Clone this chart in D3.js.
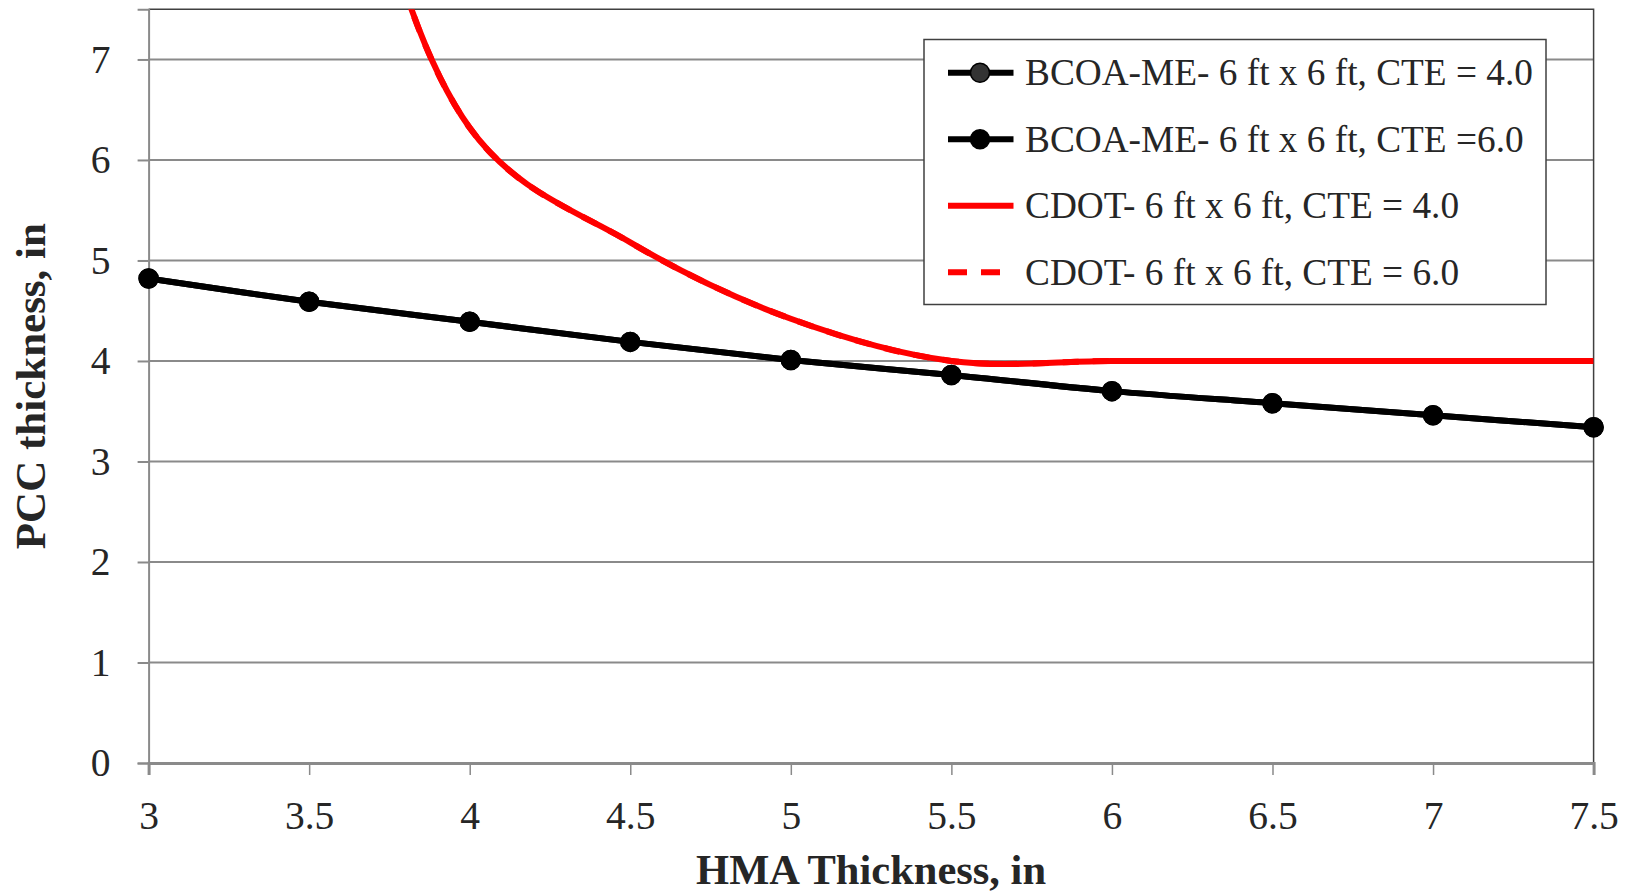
<!DOCTYPE html>
<html>
<head>
  <title>PCC vs HMA thickness</title>
  <script type="text/javascript" src="https://cdnjs.cloudflare.com/ajax/libs/d3/7.8.5/d3.min.js"></script>
  <style>
    body { margin: 0; background: #fff; }
    text { font-family: "Liberation Serif", "Times New Roman", serif; fill: #262626; }
  </style>
</head>
<body>
  <div id="container"></div>
  <script type="text/javascript">
    // HMA thickness (in) along the x axis
    var hma = [3, 3.5, 4, 4.5, 5, 5.5, 6, 6.5, 7, 7.5];
    // BCOA-ME series (both CTE values give the same curve)
    var bcoaCte4 = [4.82, 4.59, 4.39, 4.19, 4.01, 3.86, 3.70, 3.58, 3.46, 3.34];
    var bcoaCte6 = [4.82, 4.59, 4.39, 4.19, 4.01, 3.86, 3.70, 3.58, 3.46, 3.34];
    // CDOT series, first two points are off the top of the chart
    var cdotCte4 = [22.7, 11.6, 6.32, 5.18, 4.42, 4.0, 4.0, 4.0, 4.0, 4.0];
    var cdotCte6 = [22.7, 11.6, 6.32, 5.18, 4.42, 4.0, 4.0, 4.0, 4.0, 4.0];
    var xTicks = [3, 3.5, 4, 4.5, 5, 5.5, 6, 6.5, 7, 7.5];
    var yTicks = [0, 1, 2, 3, 4, 5, 6, 7];
    var legendLabels = [
      'BCOA-ME- 6 ft x 6 ft, CTE = 4.0',
      'BCOA-ME- 6 ft x 6 ft, CTE =6.0',
      'CDOT- 6 ft x 6 ft, CTE = 4.0',
      'CDOT- 6 ft x 6 ft, CTE = 6.0'
    ];

    function drawGraph() {
      var W = 1630, H = 892;
      var margin = {top: 9.2, left: 148.6, right: 36.4, bottom: 129};
      var width = W - margin.left - margin.right,
        height = H - margin.top - margin.bottom;

      var svg = d3.select('#container').append('svg')
        .attr('width', W).attr('height', H);

      var gp = svg.append('g').attr('transform', `translate(${margin.left},${margin.top})`);

      var x = d3.scaleLinear().domain([3, 7.5]).range([0, width]);
      var y = d3.scaleLinear().domain([0, 7.5]).range([height, 0]);

      svg.append('defs').append('clipPath').attr('id', 'plotclip')
        .append('rect').attr('x', 0).attr('y', 0).attr('width', width).attr('height', height);

      // gridlines
      gp.selectAll('line.grid').data(yTicks.filter(d => d > 0)).enter()
        .append('line').attr('class', 'grid')
        .attr('x1', 0).attr('x2', width)
        .attr('y1', d => y(d)).attr('y2', d => y(d))
        .attr('stroke', '#8a8a8a').attr('stroke-width', 2);

      // plot border (top and right)
      gp.append('path')
        .attr('d', `M0,0H${width}V${height}`)
        .attr('fill', 'none').attr('stroke', '#404040').attr('stroke-width', 1.5);

      // axes
      var xAxis = gp.append('g').attr('transform', `translate(0,${height})`)
        .call(d3.axisBottom(x).tickValues(xTicks).tickFormat(d3.format('')).tickSize(12).tickPadding(26));
      xAxis.select('.domain').attr('stroke', '#8a8a8a').attr('stroke-width', 3);
      xAxis.selectAll('.tick line').attr('stroke', '#8a8a8a').attr('stroke-width', 1.5);
      xAxis.selectAll('text').style('font-size', '39.5px').attr('fill', '#262626')
        .style('font-family', '"Liberation Serif", serif');

      var yAxis = gp.append('g')
        .call(d3.axisLeft(y).tickValues(yTicks).tickSize(11).tickPadding(27));
      yAxis.select('.domain').attr('stroke', '#8a8a8a').attr('stroke-width', 2);
      yAxis.selectAll('.tick line').attr('stroke', '#8a8a8a').attr('stroke-width', 2);
      yAxis.selectAll('text').style('font-size', '39.5px').attr('fill', '#262626')
        .style('font-family', '"Liberation Serif", serif');

      // axis titles
      svg.append('text')
        .attr('x', margin.left + width / 2).attr('y', 884)
        .attr('text-anchor', 'middle')
        .style('font-size', '42.5px').style('font-weight', 'bold')
        .text('HMA Thickness, in');
      svg.append('text')
        .attr('transform', `translate(44.5,${margin.top + height / 2}) rotate(-90)`)
        .attr('text-anchor', 'middle')
        .style('font-size', '43px').style('font-weight', 'bold')
        .text('PCC thickness, in');

      var line = d3.line()
        .x(d => x(d[0])).y(d => y(d[1]))
        .curve(d3.curveCatmullRom.alpha(0.5));

      var series = [
        {vals: bcoaCte4, color: '#000', dash: null, marker: '#333'},
        {vals: bcoaCte6, color: '#000', dash: null, marker: '#000'},
        {vals: cdotCte4, color: '#ff0000', dash: null, marker: null},
        {vals: cdotCte6, color: '#ff0000', dash: '16,14', marker: null}
      ];

      var plot = gp.append('g').attr('clip-path', 'url(#plotclip)');
      series.forEach(function (s) {
        var pts = hma.map((h, i) => [h, s.vals[i]]);
        plot.append('path').datum(pts)
          .attr('d', line)
          .attr('fill', 'none').attr('stroke', s.color).attr('stroke-width', 6)
          .attr('stroke-dasharray', s.dash)
          .attr('stroke-linejoin', 'round');
        if (s.marker) {
          gp.selectAll(null).data(pts).enter().append('circle')
            .attr('cx', d => x(d[0])).attr('cy', d => y(d[1]))
            .attr('r', 9.5).attr('fill', s.marker).attr('stroke', '#000').attr('stroke-width', 1.5);
        }
      });

      // legend
      var lg = svg.append('g').attr('transform', 'translate(924,39.5)');
      lg.append('rect').attr('width', 622).attr('height', 265)
        .attr('fill', '#fff').attr('stroke', '#404040').attr('stroke-width', 1.5);
      series.forEach(function (s, i) {
        var ry = 33.3 + i * 66.5;
        lg.append('line').attr('x1', 24).attr('x2', 89.5).attr('y1', ry).attr('y2', ry)
          .attr('stroke', s.color).attr('stroke-width', 6)
          .attr('stroke-dasharray', s.dash ? '19,14' : null);
        if (s.marker) {
          lg.append('circle').attr('cx', 56).attr('cy', ry).attr('r', 9.5)
            .attr('fill', s.marker).attr('stroke', '#000').attr('stroke-width', 1.5);
        }
        lg.append('text').attr('x', 101).attr('y', ry + 12.5)
          .style('font-size', '37.3px')
          .text(legendLabels[i]);
      });
    }

    drawGraph();
  </script>
</body>
</html>
